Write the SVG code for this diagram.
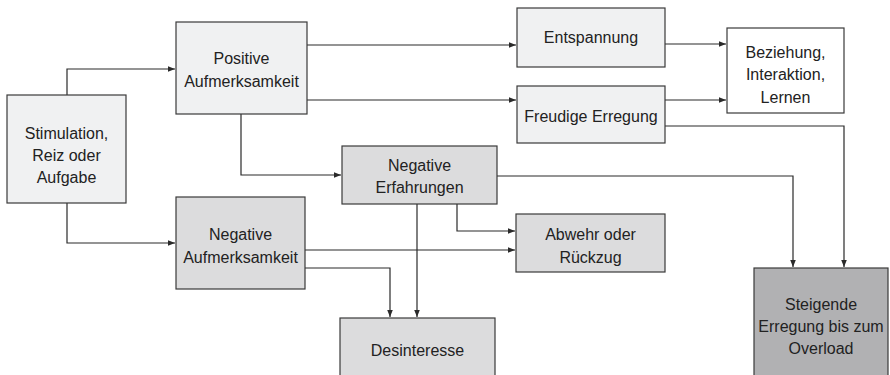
<svg xmlns="http://www.w3.org/2000/svg" width="890" height="375" viewBox="0 0 890 375">
<style>
.box{stroke:#3a3a3a;stroke-width:1.2}
.l1{fill:#f0f1f2}
.l2{fill:#dcdcdd}
.l3{fill:#b1b1b3}
.w{fill:#ffffff}
text{font-family:"Liberation Sans",Arial,sans-serif;font-size:16px;fill:#222222;text-anchor:middle;dominant-baseline:central}
.c{fill:none;stroke:#2a2a2a;stroke-width:1.2}
</style>
<defs>
<marker id="a" viewBox="0 0 10 10" refX="10" refY="5" markerWidth="7" markerHeight="7" markerUnits="userSpaceOnUse" orient="auto">
<path d="M0,1 L10,5 L0,9 z" fill="#2a2a2a"/>
</marker>
</defs>
<g id="connectors">
<path class="c" d="M67,95 V69 H175" marker-end="url(#a)"/>
<path class="c" d="M67,203 V243 H175" marker-end="url(#a)"/>
<path class="c" d="M307,45 H516" marker-end="url(#a)"/>
<path class="c" d="M307,100 H516" marker-end="url(#a)"/>
<path class="c" d="M665,44 H726" marker-end="url(#a)"/>
<path class="c" d="M665,100 H726" marker-end="url(#a)"/>
<path class="c" d="M665,126 H844 V267" marker-end="url(#a)"/>
<path class="c" d="M497,176 H793 V267" marker-end="url(#a)"/>
<path class="c" d="M241,114 V175 H341" marker-end="url(#a)"/>
<path class="c" d="M417,204 V317" marker-end="url(#a)"/>
<path class="c" d="M457,204 V231 H515" marker-end="url(#a)"/>
<path class="c" d="M305,250 H515" marker-end="url(#a)"/>
<path class="c" d="M305,268 H390 V317" marker-end="url(#a)"/>
</g>
<g id="stimulation">
<rect class="box l1" x="7" y="95" width="119" height="108"/>
<text x="66.5" y="133">Stimulation,</text>
<text x="66.5" y="155">Reiz oder</text>
<text x="66.5" y="177">Aufgabe</text>
</g>
<g id="positive">
<rect class="box l1" x="176" y="22" width="131" height="92"/>
<text x="241.5" y="58">Positive</text>
<text x="241.5" y="81">Aufmerksamkeit</text>
</g>
<g id="negative-aufmerksamkeit">
<rect class="box l2" x="176" y="197" width="129" height="92"/>
<text x="240.5" y="234">Negative</text>
<text x="240.5" y="257">Aufmerksamkeit</text>
</g>
<g id="entspannung">
<rect class="box l1" x="517" y="8" width="148" height="59"/>
<text x="591" y="37">Entspannung</text>
</g>
<g id="freudige">
<rect class="box l1" x="517" y="86" width="148" height="57"/>
<text x="591" y="116">Freudige Erregung</text>
</g>
<g id="beziehung">
<rect class="box w" x="727" y="28" width="117" height="85"/>
<text x="785.5" y="52">Beziehung,</text>
<text x="785.5" y="74">Interaktion,</text>
<text x="785.5" y="97">Lernen</text>
</g>
<g id="negative-erfahrungen">
<rect class="box l2" x="342" y="146" width="155" height="58"/>
<text x="419.5" y="165">Negative</text>
<text x="419.5" y="187">Erfahrungen</text>
</g>
<g id="abwehr">
<rect class="box l2" x="516" y="214" width="149" height="58"/>
<text x="590.5" y="234">Abwehr oder</text>
<text x="590.5" y="257">Rückzug</text>
</g>
<g id="desinteresse">
<rect class="box l2" x="340" y="318" width="155" height="62"/>
<text x="417.5" y="350">Desinteresse</text>
</g>
<g id="steigende">
<rect class="box l3" x="754" y="268" width="134" height="112"/>
<text x="821" y="304">Steigende</text>
<text x="821" y="326">Erregung bis zum</text>
<text x="821" y="348">Overload</text>
</g>
</svg>
